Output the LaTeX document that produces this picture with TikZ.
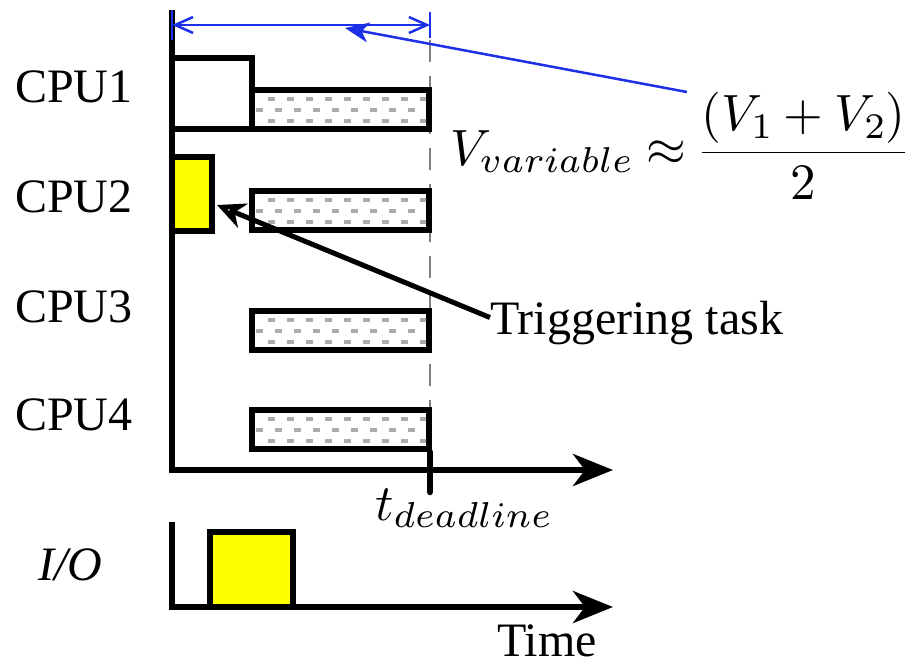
\RequirePackage{fix-cm}
\documentclass[tikz,border=0pt]{standalone}
\usepackage{fontspec}
\setmainfont{Liberation Serif}
\usetikzlibrary{arrows.meta,calc}
% math at display size with wide subscripts
\DeclareFontShape{OML}{cmm}{m}{it}{<-40> cmmi7 <40-> cmmi10}{}
\DeclareFontShape{OT1}{cmr}{m}{n}{<-40> cmr7 <40-> cmr10}{}
\DeclareFontShape{OMS}{cmsy}{m}{n}{<-40> cmsy7 <40-> cmsy10}{}
\DeclareMathSizes{51}{51}{36}{28}
\definecolor{spanblue}{RGB}{28,48,232}
\definecolor{taskyellow}{RGB}{255,255,0}

\tikzset{
  bigtext/.style={font=\fontsize{48}{56}\selectfont, inner sep=0pt, anchor=base west},
  mathtext/.style={font=\fontsize{51}{60}\selectfont, inner sep=0pt, anchor=base west},
  axis/.style={line width=6pt, line join=miter,
    -{Stealth[length=40pt,width=32pt,inset=12pt]}},
  slot/.style={draw, line width=6pt, inner sep=0pt, outer sep=0pt,
    anchor=north west, fill=white},
  busy/.style={slot, fill=taskyellow},
  hatchdash/.style={draw=gray!65, line width=3.5pt, dash pattern=on 7pt off 12pt},
  span/.style={draw=spanblue, line width=2.5pt},
  spanarrow/.style={span, {Straight Barb[length=18pt,width=16pt]}-{Straight Barb[length=18pt,width=16pt]}},
  pointer/.style={span, -{Stealth[length=24pt,width=20pt,inset=7pt]}},
  trigarrow/.style={line width=5pt, -{Stealth[open,length=28pt,width=26pt,inset=9pt]}},
  deadline/.style={draw=gray, line width=2pt, dash pattern=on 22pt off 14pt}
}

\begin{document}
\begin{tikzpicture}[x=1pt,y=-1pt]
\useasboundingbox (0,0) rectangle (911,665);

% time axes
\coordinate (cpuTop) at (172,10);
\coordinate (cpuOrigin) at (172,470);
\coordinate (cpuEnd) at (613,470);
\coordinate (ioTop) at (172,522);
\coordinate (ioOrigin) at (172,607);
\coordinate (ioEnd) at (613,607);

% deadline marker
\coordinate (dlTop) at (430,40);
\coordinate (dlMid) at (430,452);
\coordinate (dlLow) at (430,492);
\draw[deadline] (dlTop) -- (dlMid);

% schedule slots
\node[slot, minimum width=80pt, minimum height=71pt] (c1) at (172,58) {};
\node[slot, minimum width=177pt, minimum height=39pt] (h1) at (252,90) {};
\node[busy, minimum width=40pt, minimum height=74pt] (y2) at (172,157) {};
\node[slot, minimum width=177pt, minimum height=39pt] (h2) at (252,191) {};
\node[slot, minimum width=177pt, minimum height=39pt] (h3) at (252,311) {};
\node[slot, minimum width=177pt, minimum height=39pt] (h4) at (252,410) {};
\node[busy, minimum width=83pt, minimum height=75pt] (io) at (210,532) {};

% dotted fill of the variable slots
\foreach \n in {h1,h2,h3,h4} {
  \begin{scope}
    \clip ([shift={(3pt,-3pt)}]\n.north west) rectangle ([shift={(-3pt,3pt)}]\n.south east);
    \draw[hatchdash] ([shift={(16pt,-9pt)}]\n.north west) -- ([yshift=-9pt]\n.north east);
    \draw[hatchdash] ([shift={(4pt,-20pt)}]\n.north west) -- ([yshift=-20pt]\n.north east);
    \draw[hatchdash] ([shift={(16pt,-31pt)}]\n.north west) -- ([yshift=-31pt]\n.north east);
  \end{scope}
}

\draw[axis] (cpuTop) -- (cpuOrigin) -- (cpuEnd);
\draw[axis] (ioTop) -- (ioOrigin) -- (ioEnd);
\draw[line width=6.5pt, line cap=round] (dlMid) -- (dlLow);

% measured span above the schedule
\coordinate (spanL) at (172,25);
\coordinate (spanR) at (430,25);
\draw[span] (172,10) -- (172,40);
\draw[span] (430,12) -- (430,38);
\draw[spanarrow] (spanL) -- (spanR);
\coordinate (spanPt) at (345,28);
\coordinate (formPt) at (687,92);
\draw[pointer] (formPt) -- (spanPt);

% labels
\node[bigtext] (l1) at (15,102) {CPU1};
\node[bigtext] (l2) at (15,212) {CPU2};
\node[bigtext] (l3) at (15,322) {CPU3};
\node[bigtext] (l4) at (15,430) {CPU4};
\node[bigtext, font=\fontsize{48}{56}\selectfont\itshape] (lio) at (38,580) {I/O};
\node[bigtext] (trig) at (490,334) {Triggering task};
\node[bigtext] (time) at (497,656) {Time};
\node[mathtext] (tdl) at (375,520) {$t_{deadline}$};
\node[mathtext] (vform) at (450,165) {$V_{variable} \approx \displaystyle\frac{(V_1+V_2)}{2}$};

\coordinate (trigTip) at (217,205);
\draw[trigarrow] ($(trig.west)+(0,-5)$) -- (trigTip);
\end{tikzpicture}
\end{document}
